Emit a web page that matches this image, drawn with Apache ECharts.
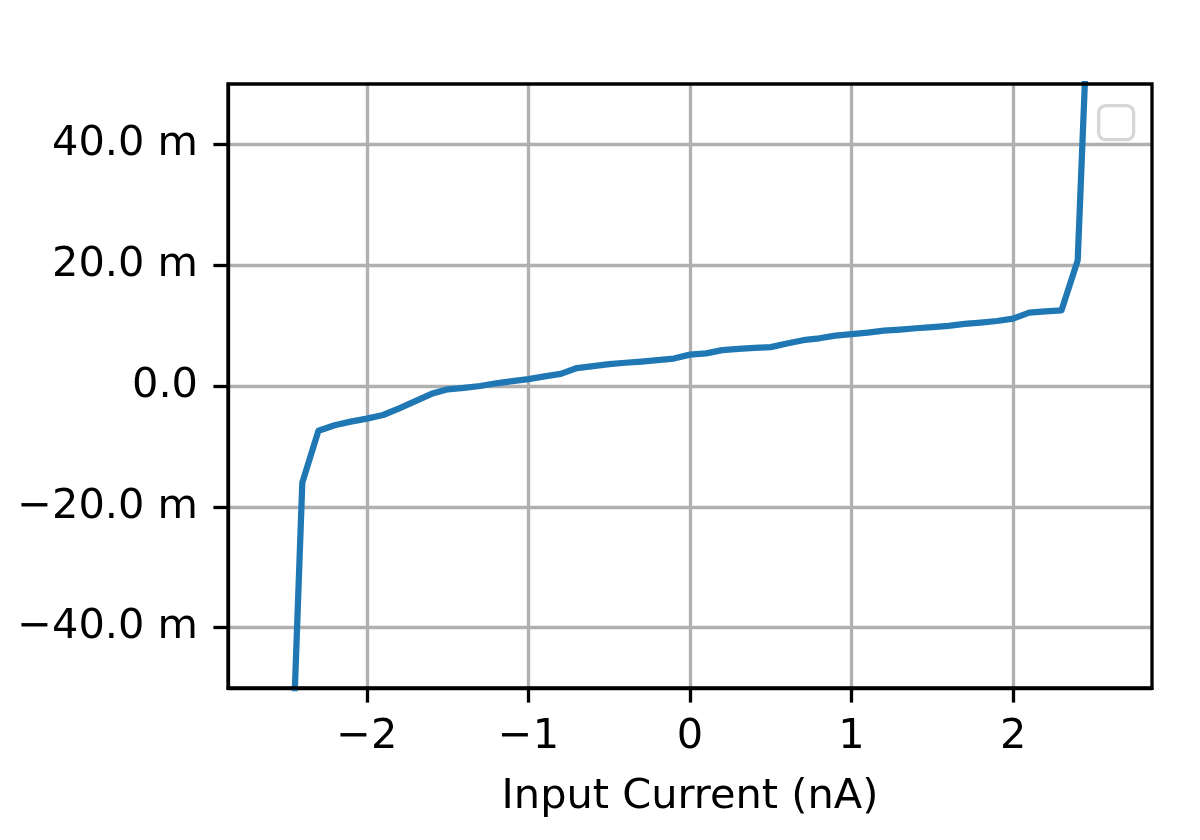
<!DOCTYPE html>
<html>
<head>
<meta charset="utf-8">
<script src="https://cdn.jsdelivr.net/npm/echarts@6/dist/echarts.min.js"></script>
<style>
html,body{margin:0;padding:0;background:#fff;}
#chart{width:1200px;height:840px;}
</style>
</head>
<body>
<div id="chart"></div>
<script>
// Data (input current in nA, output in milli-units)
const inputCurrent = [-2.6,-2.5,-2.4,-2.3,-2.2,-2.1,-2.0,-1.9,-1.8,-1.7,-1.6,-1.5,-1.4,-1.3,-1.2,-1.1,-1.0,-0.9,-0.8,-0.7,-0.6,-0.5,-0.4,-0.3,-0.2,-0.1,0.0,0.1,0.2,0.3,0.4,0.5,0.6,0.7,0.8,0.9,1.0,1.1,1.2,1.3,1.4,1.5,1.6,1.7,1.8,1.9,2.0,2.1,2.2,2.3,2.4,2.5,2.6];
const outputMilli = [-180,-90,-16.0,-7.4,-6.5,-5.9,-5.4,-4.8,-3.7,-2.5,-1.3,-0.55,-0.3,0.0,0.45,0.82,1.15,1.6,2.0,2.97,3.3,3.63,3.85,4.05,4.3,4.55,5.2,5.4,5.93,6.15,6.32,6.43,7.03,7.58,7.9,8.35,8.57,8.84,9.17,9.34,9.56,9.73,9.94,10.27,10.5,10.76,11.16,12.15,12.36,12.53,20.8,87,180];
const xTicks = [-2,-1,0,1,2];
const yTicks = [-40,-20,0,20,40];
const xLabel = 'Input Current (nA)';

const FONT = 'DejaVu Sans';
const FS = 41.5;
const fmtMinus = v => String(v).replace('-', '\u2212');

const chart = echarts.init(document.getElementById('chart'), null, {renderer:'canvas'});
const seriesData = inputCurrent.map((x,i)=>[x, outputMilli[i]]);

chart.setOption({
  animation:false,
  backgroundColor:'#ffffff',
  grid:{left:228,right:48,top:84,bottom:152,show:true,borderColor:'#000',borderWidth:3.3,backgroundColor:'transparent',z:3},
  xAxis:{
    type:'value',min:-2.86,max:2.86,
    name:xLabel,nameLocation:'middle',nameGap:88,
    nameTextStyle:{fontFamily:FONT,fontSize:FS,color:'#000'},
    axisLine:{show:true,onZero:false,lineStyle:{color:'#000',width:3.3}},
    axisTick:{show:true,inside:false,length:14.6,lineStyle:{color:'#000',width:3.3},customValues:xTicks},
    axisLabel:{show:true,margin:28,fontFamily:FONT,fontSize:FS,color:'#000',customValues:xTicks,formatter:v=>fmtMinus(v)},
    splitLine:{show:true,lineStyle:{color:'#b0b0b0',width:3.3}}
  },
  yAxis:{
    type:'value',min:-50,max:50,
    axisLine:{show:true,onZero:false,lineStyle:{color:'#000',width:3.3}},
    axisTick:{show:true,inside:false,length:14.6,lineStyle:{color:'#000',width:3.3},customValues:yTicks},
    axisLabel:{show:true,margin:30,fontFamily:FONT,fontSize:FS,color:'#000',customValues:yTicks,
      formatter:v=> v===0 ? '0.0' : fmtMinus(v.toFixed(1))+' m'},
    splitLine:{show:true,lineStyle:{color:'#b0b0b0',width:3.3}}
  },
  series:[{
    type:'line',data:seriesData,showSymbol:false,clip:true,
    lineStyle:{color:'#1f77b4',width:6.25,join:'round',cap:'butt'},
    z:2
  }],
  graphic:[{
    type:'rect',left:1097,top:104,z:100,
    shape:{width:35,height:34,r:7},
    style:{fill:'rgba(255,255,255,0.8)',stroke:'#d6d6d6',lineWidth:3.3}
  }]
});
</script>
</body>
</html>
